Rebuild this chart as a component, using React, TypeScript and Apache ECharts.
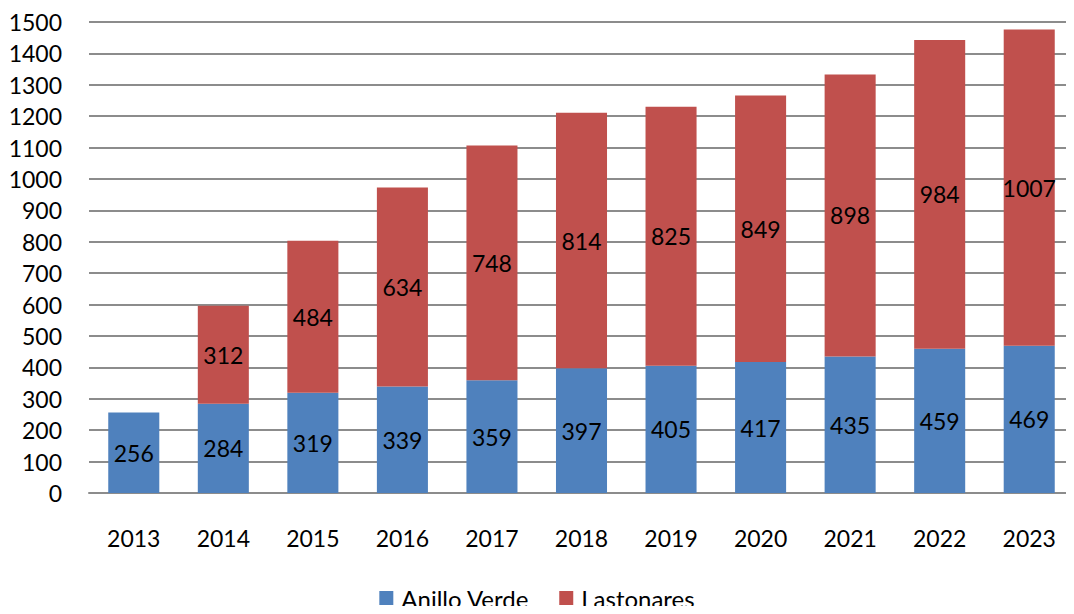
import React, { useEffect, useRef } from "react";
import * as echarts from "echarts";

const years = ["2013", "2014", "2015", "2016", "2017", "2018", "2019", "2020", "2021", "2022", "2023"];
const anilloVerde = [256, 284, 319, 339, 359, 397, 405, 417, 435, 459, 469];
const lastonares = [null, 312, 484, 634, 748, 814, 825, 849, 898, 984, 1007];

const FONT = "Lato, 'Noto Sans', sans-serif";
const FONT_SIZE = 23;
const TEXT = "#000000";
const GRID = "#8c8c8c";

export default function App() {
  const ref = useRef<HTMLDivElement>(null);

  useEffect(() => {
    if (!ref.current) return;
    const chart = echarts.init(ref.current, null, { renderer: "svg" });
    const label = {
      show: true,
      position: "inside",
      color: TEXT,
      fontFamily: FONT,
      fontSize: FONT_SIZE,
    };
    chart.setOption({
      animation: false,
      textStyle: { fontFamily: FONT },
      // the plot runs slightly past the right edge of the canvas
      grid: { left: 89, width: 998, top: 22, bottom: 121, containLabel: false },
      legend: {
        top: 581,
        left: "center",
        itemWidth: 14,
        itemHeight: 14,
        itemGap: 30,
        icon: "rect",
        textStyle: {
          color: TEXT,
          fontFamily: FONT,
          fontSize: 24,
          padding: [0, 0, 0, 3],
        },
        data: ["Anillo Verde", "Lastonares"],
      },
      xAxis: {
        type: "category",
        data: years,
        axisLine: { lineStyle: { color: GRID, width: 2 } },
        axisTick: { show: false },
        axisLabel: { color: TEXT, fontFamily: FONT, fontSize: FONT_SIZE, margin: 33 },
      },
      yAxis: {
        type: "value",
        min: 0,
        max: 1500,
        interval: 100,
        axisLine: { show: false },
        axisTick: { show: false },
        axisLabel: {
          color: TEXT,
          fontFamily: FONT,
          fontSize: FONT_SIZE,
          margin: 27,
          formatter: (v: number) => String(v),
        },
        splitLine: { lineStyle: { color: GRID, width: 2 } },
      },
      series: [
        {
          name: "Anillo Verde",
          type: "bar",
          stack: "total",
          data: anilloVerde,
          barWidth: "57%",
          itemStyle: { color: "#4F81BD" },
          label,
        },
        {
          name: "Lastonares",
          type: "bar",
          stack: "total",
          data: lastonares,
          barWidth: "57%",
          itemStyle: { color: "#C0504D" },
          label,
        },
      ],
    });
    return () => chart.dispose();
  }, []);

  return <div ref={ref} style={{ width: 1074, height: 614, margin: -8, overflow: "hidden" }} />;
}
